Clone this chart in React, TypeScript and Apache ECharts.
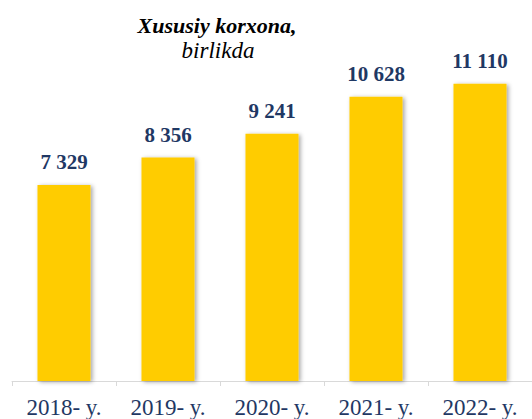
import React, { useEffect, useRef } from "react";
import * as echarts from "echarts";

const categories = ["2018- y.", "2019- y.", "2020- y.", "2021- y.", "2022- y."];
const values = [7329, 8356, 9241, 10628, 11110];
const titleLine1 = "Xususiy korxona,";
const titleLine2 = "birlikda";

const fmt = (v: number) => String(v).replace(/\B(?=(\d{3})+(?!\d))/g, " ");

export default function App() {
  const ref = useRef<HTMLDivElement>(null);
  useEffect(() => {
    const chart = echarts.init(ref.current!, null, { renderer: "svg" });
    const font = "Liberation Serif";
    chart.setOption({
      animation: false,
      backgroundColor: "#ffffff",
      textStyle: { fontFamily: font },
      grid: { left: 12, right: 0, top: 60, bottom: 37, containLabel: false },
      graphic: [
        {
          type: "text",
          x: 217,
          y: 25,
          style: {
            text: titleLine1,
            align: "center",
            verticalAlign: "middle",
            fontFamily: font,
            fontStyle: "italic",
            fontWeight: "bold",
            fontSize: 22,
            fill: "#000000",
          },
        },
        {
          type: "text",
          x: 218,
          y: 50,
          style: {
            text: titleLine2,
            align: "center",
            verticalAlign: "middle",
            fontFamily: font,
            fontStyle: "italic",
            fontSize: 23,
            fill: "#000000",
          },
        },
      ],
      xAxis: {
        type: "category",
        data: categories,
        axisLine: { show: true, lineStyle: { color: "#D9D9D9", width: 1 } },
        axisTick: { show: true, length: 5, lineStyle: { color: "#D9D9D9" } },
        axisLabel: {
          margin: 15,
          fontFamily: font,
          fontSize: 23,
          color: "#1F3864",
        },
      },
      yAxis: {
        type: "value",
        min: 0,
        max: 12000,
        show: false,
        splitLine: { show: false },
      },
      series: [
        {
          type: "bar",
          data: values,
          barWidth: "51%",
          itemStyle: {
            color: "#FFCC00",
            shadowBlur: 4,
            shadowColor: "rgba(0,0,0,0.35)",
            shadowOffsetX: 2,
            shadowOffsetY: 1,
          },
          label: {
            show: true,
            position: "top",
            distance: 12,
            formatter: (p: any) => fmt(p.value),
            fontFamily: font,
            fontWeight: "bold",
            fontSize: 21,
            color: "#1F3864",
          },
        },
      ],
    });
    return () => chart.dispose();
  }, []);
  return <div ref={ref} style={{ width: 532, height: 419, position: "absolute", left: 0, top: 0 }} />;
}
